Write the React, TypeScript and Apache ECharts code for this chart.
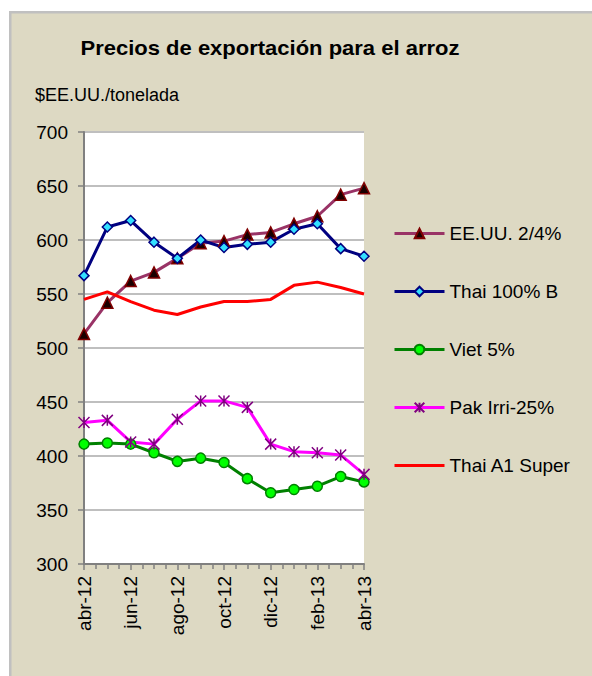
import React, { useEffect, useRef } from "react";
import * as echarts from "echarts";

const months = ["abr-12", "may-12", "jun-12", "jul-12", "ago-12", "sep-12", "oct-12", "nov-12", "dic-12", "ene-13", "feb-13", "mar-13", "abr-13"];
const eeuu = [513, 542, 562, 570, 583, 597, 599, 605, 607, 615, 622, 642, 648];
const thai100 = [567, 612, 618, 598, 583, 600, 593, 596, 598, 610, 615, 592, 585];
const viet = [411, 412, 411, 403, 395, 398, 394, 379, 366, 369, 372, 381, 376];
const pak = [431, 433, 413, 411, 434, 451, 451, 445, 411, 404, 403, 401, 383];
const thaiA1 = [545, 552, 543, 535, 531, 538, 543, 543, 545, 558, 561, 556, 550];
const seriesNames = ["EE.UU. 2/4%", "Thai 100% B", "Viet 5%", "Pak Irri-25%", "Thai A1 Super"];

const FONT = 'Arial, "Liberation Sans", sans-serif';
const toXY = (arr: number[]) => arr.map((v, i) => [i, v]);

export default function App() {
  const ref = useRef<HTMLDivElement>(null);
  useEffect(() => {
    if (!ref.current) return;
    const chart = echarts.init(ref.current, null, { renderer: "svg" });
    chart.setOption({
      animation: false,
      backgroundColor: "#DDD9C3",
      textStyle: { fontFamily: FONT },
      graphic: [
        { type: "rect", z: 100, shape: { x: 0, y: 0, width: 592, height: 11 }, style: { fill: "#ffffff" } },
        { type: "rect", z: 100, shape: { x: 0, y: 0, width: 9, height: 676 }, style: { fill: "#ffffff" } },
        { type: "rect", z: 101, shape: { x: 9, y: 11, width: 583, height: 2.5 }, style: { fill: "#C0C0C0" } },
        { type: "rect", z: 101, shape: { x: 9, y: 11, width: 2.5, height: 665 }, style: { fill: "#C0C0C0" } },
        {
          type: "text", x: 270, y: 48, scaleX: 1.1, z: 50,
          style: { text: "Precios de exportación para el arroz", font: `bold 20px ${FONT}`, fill: "#000", textAlign: "center", textVerticalAlign: "middle" },
        },
        {
          type: "text", x: 35, y: 95, z: 50,
          style: { text: "$EE.UU./tonelada", font: `18px ${FONT}`, fill: "#000", textAlign: "left", textVerticalAlign: "middle" },
        },
      ],
      legend: {
        orient: "vertical",
        left: 393,
        top: 224,
        padding: 0,
        itemWidth: 50,
        itemHeight: 12,
        itemGap: 39,
        lineStyle: { width: 3 },
        textStyle: { fontSize: 19, color: "#000", fontFamily: FONT },
        data: [
          seriesNames[0],
          seriesNames[1],
          seriesNames[2],
          seriesNames[3],
          { name: seriesNames[4], itemStyle: { color: "rgba(0,0,0,0)", borderWidth: 0 } },
        ],
      },
      grid: { left: 84, top: 132, width: 280, height: 432, show: true, backgroundColor: "#ffffff", borderWidth: 0 },
      xAxis: {
        type: "value",
        min: 0,
        max: 12,
        interval: 2,
        axisLine: { show: true, lineStyle: { color: "#808080", width: 2 } },
        axisTick: { show: true, length: 6, lineStyle: { color: "#808080", width: 1.5 } },
        minorTick: { show: true, splitNumber: 4, length: 5, lineStyle: { color: "#808080", width: 1.5 } },
        splitLine: { show: false },
        axisLabel: {
          rotate: 90,
          margin: 12,
          fontSize: 19,
          color: "#000",
          fontFamily: FONT,
          formatter: (v: number) => months[Math.round(v)] ?? "",
        },
      },
      yAxis: {
        type: "value",
        min: 300,
        max: 700,
        interval: 50,
        axisLine: { show: true, lineStyle: { color: "#808080", width: 2 } },
        axisTick: { show: true, length: 6, lineStyle: { color: "#808080", width: 1.5 } },
        splitLine: { show: true, lineStyle: { color: "#BFBFBF", width: 2 } },
        axisLabel: { margin: 16, fontSize: 19, color: "#000", fontFamily: FONT },
      },
      series: [
        {
          name: seriesNames[0], type: "line", data: toXY(eeuu),
          symbol: "triangle", symbolSize: 11,
          lineStyle: { color: "#993366", width: 3 },
          itemStyle: { color: "#1a0000", borderColor: "#800000", borderWidth: 1.5 },
        },
        {
          name: seriesNames[1], type: "line", data: toXY(thai100),
          symbol: "diamond", symbolSize: 10,
          lineStyle: { color: "#000080", width: 3 },
          itemStyle: { color: "#33E0FF", borderColor: "#000080", borderWidth: 1.5 },
        },
        {
          name: seriesNames[2], type: "line", data: toXY(viet),
          symbol: "circle", symbolSize: 10,
          lineStyle: { color: "#008000", width: 3 },
          itemStyle: { color: "#00FF00", borderColor: "#008000", borderWidth: 1.5 },
        },
        {
          name: seriesNames[3], type: "line", data: toXY(pak),
          symbol: "path://M0,0L10,10M10,0L0,10M5,0L5,10", symbolSize: 11,
          lineStyle: { color: "#FF00FF", width: 3 },
          itemStyle: { color: "#800080", borderColor: "#800080", borderWidth: 1.5 },
        },
        {
          name: seriesNames[4], type: "line", data: toXY(thaiA1),
          symbol: "none", showSymbol: false,
          lineStyle: { color: "#FF0000", width: 3 },
          itemStyle: { color: "#FF0000" },
        },
      ],
    });
    return () => chart.dispose();
  }, []);
  return (
    <div style={{ position: "fixed", left: 0, top: 0, width: 592, height: 676, background: "#fff" }}>
      <div ref={ref} style={{ width: 592, height: 676 }} />
    </div>
  );
}
